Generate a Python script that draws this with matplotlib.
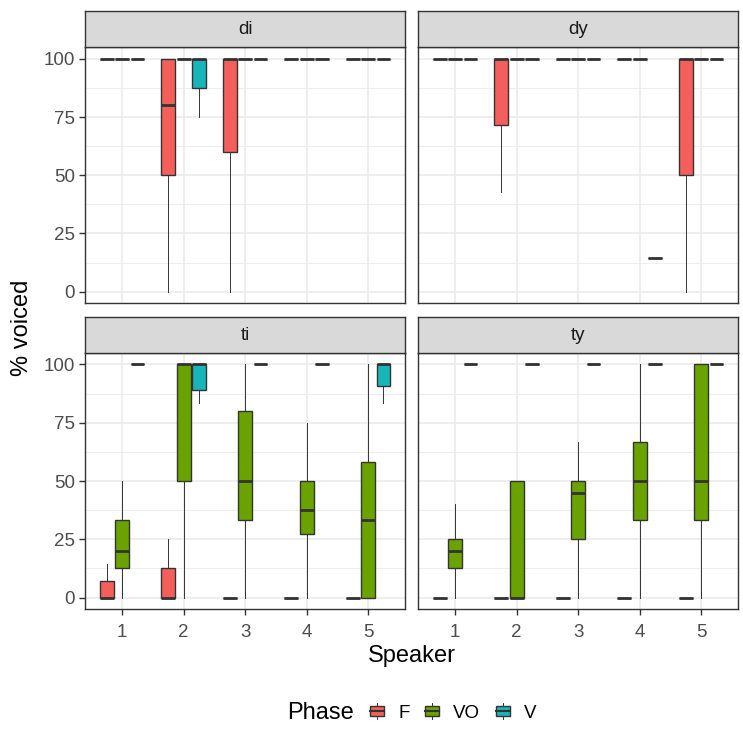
import matplotlib
matplotlib.use("Agg")
import matplotlib.pyplot as plt
from matplotlib.patches import Rectangle

plt.rcParams['font.family'] = ['Liberation Sans', 'DejaVu Sans']

W, H = 743, 734

PANELS = ['di', 'dy', 'ti', 'ty']
PHASES = ['F', 'VO', 'V']
SPEAKERS = [1, 2, 3, 4, 5]
PHASE_COLORS = {'F': '#F55F5B', 'VO': '#6AA300', 'V': '#18B5BA'}

# box statistics, [panel][phase][speaker]
Q1 = [
    [[100, 50, 60, 100, 100], [100, 100, 100, 100, 100], [100, 87.5, 100, 100, 100]],
    [[100, 71.4, 100, 100, 50], [100, 100, 100, 100, 100], [100, 100, 100, 14.3, 100]],
    [[0, 0, 0, 0, 0], [12.5, 50, 33.3, 27.3, 0], [100, 88.9, 100, 100, 90.9]],
    [[0, 0, 0, 0, 0], [12.5, 0, 25, 33.3, 33.3], [100, 100, 100, 100, 100]],
]
MED = [
    [[100, 80, 100, 100, 100], [100, 100, 100, 100, 100], [100, 100, 100, 100, 100]],
    [[100, 100, 100, 100, 100], [100, 100, 100, 100, 100], [100, 100, 100, 14.3, 100]],
    [[0, 0, 0, 0, 0], [20, 100, 50, 37.5, 33.3], [100, 100, 100, 100, 100]],
    [[0, 0, 0, 0, 0], [20, 0, 45, 50, 50], [100, 100, 100, 100, 100]],
]
Q3 = [
    [[100, 100, 100, 100, 100], [100, 100, 100, 100, 100], [100, 100, 100, 100, 100]],
    [[100, 100, 100, 100, 100], [100, 100, 100, 100, 100], [100, 100, 100, 14.3, 100]],
    [[7.1, 12.5, 0, 0, 0], [33.3, 100, 80, 50, 58.3], [100, 100, 100, 100, 100]],
    [[0, 0, 0, 0, 0], [25, 50, 50, 66.7, 100], [100, 100, 100, 100, 100]],
]
WHISLO = [
    [[100, 0, 0, 100, 100], [100, 100, 100, 100, 100], [100, 75, 100, 100, 100]],
    [[100, 42.9, 100, 100, 0], [100, 100, 100, 100, 100], [100, 100, 100, 14.3, 100]],
    [[0, 0, 0, 0, 0], [0, 0, 0, 0, 0], [100, 83.3, 100, 100, 83.3]],
    [[0, 0, 0, 0, 0], [0, 0, 0, 0, 0], [100, 100, 100, 100, 100]],
]
WHISHI = [
    [[100, 100, 100, 100, 100], [100, 100, 100, 100, 100], [100, 100, 100, 100, 100]],
    [[100, 100, 100, 100, 100], [100, 100, 100, 100, 100], [100, 100, 100, 14.3, 100]],
    [[14.3, 25, 0, 0, 0], [50, 100, 100, 75, 100], [100, 100, 100, 100, 100]],
    [[0, 0, 0, 0, 0], [40, 50, 66.7, 100, 100], [100, 100, 100, 100, 100]],
]

Y_TICKS = [0, 25, 50, 75, 100]
Y_MINOR = [12.5, 37.5, 62.5, 87.5]

DARK = '#333333'
GRID = '#EBEBEB'


def frac(x0, y0, x1, y1):
    return [x0 / W, 1 - y1 / H, (x1 - x0) / W, (y1 - y0) / H]


cols = [(85.3, 405), (418.3, 738)]
bodies = [(47.3, 303.3), (352.7, 609.3)]
strips = [(11, 47.3), (317.3, 352.7)]

fig = plt.figure(figsize=(W / 100, H / 100), dpi=100)

for p, name in enumerate(PANELS):
    r, c = divmod(p, 2)
    x0, x1 = cols[c]
    ax = fig.add_axes(frac(x0, bodies[r][0], x1, bodies[r][1]))
    ax.set_xlim(0.4, 5.6)
    ax.set_ylim(-5, 105)

    for y in Y_TICKS:
        ax.axhline(y, color=GRID, lw=1.2, zorder=0)
    for y in Y_MINOR:
        ax.axhline(y, color=GRID, lw=0.6, zorder=0)
    for s in SPEAKERS:
        ax.axvline(s, color=GRID, lw=1.2, zorder=0)

    for k, ph in enumerate(PHASES):
        stats = []
        for j in range(len(SPEAKERS)):
            stats.append(dict(med=MED[p][k][j], q1=Q1[p][k][j], q3=Q3[p][k][j],
                              whislo=WHISLO[p][k][j], whishi=WHISHI[p][k][j],
                              fliers=[]))
        pos = [s + (k - 1) * 0.25 for s in SPEAKERS]
        ax.bxp(stats, positions=pos, widths=0.225, patch_artist=True,
               showfliers=False, showcaps=False, manage_ticks=False,
               boxprops=dict(facecolor=PHASE_COLORS[ph], edgecolor=DARK, lw=1.0),
               medianprops=dict(color=DARK, lw=2.0),
               whiskerprops=dict(color=DARK, lw=0.7), zorder=3)

    for sp in ax.spines.values():
        sp.set_color(DARK)
        sp.set_linewidth(1.0)
    ax.set_xticks(SPEAKERS)
    ax.set_yticks(Y_TICKS)
    ax.tick_params(length=4.5, width=1.0, color=DARK, pad=3,
                   labelsize=13.5, labelcolor='#4D4D4D')
    ax.tick_params(axis='x', pad=6)
    if r == 0:
        ax.tick_params(axis='x', length=0, labelbottom=False)
    else:
        ax.set_xticklabels([str(s) for s in SPEAKERS])
    if c == 1:
        ax.tick_params(axis='y', length=0, labelleft=False)

    sax = fig.add_axes(frac(x0, strips[r][0], x1, strips[r][1]))
    sax.set_facecolor('#D9D9D9')
    sax.set_xticks([])
    sax.set_yticks([])
    for sp in sax.spines.values():
        sp.set_color(DARK)
        sp.set_linewidth(1.0)
    sax.text(0.5, 0.5, name, ha='center', va='center', fontsize=13.5,
             color='#1A1A1A', transform=sax.transAxes)

fig.text(22 / W, 1 - 328 / H, '% voiced', rotation=90, ha='center', va='center',
         fontsize=17, color='black')
fig.text(411.6 / W, 1 - 656 / H, 'Speaker', ha='center', va='center',
         fontsize=17, color='black')

# legend drawn in pixel coordinates
lax = fig.add_axes([0, 0, 1, 1], facecolor='none')
lax.set_xlim(0, W)
lax.set_ylim(H, 0)
lax.axis('off')
lax.text(287, 713, 'Phase', ha='left', va='center', fontsize=17)
key_x = [370, 425, 496]
lab_x = [399, 453, 524]
for ph, kx, tx in zip(PHASES, key_x, lab_x):
    cx = kx + 7
    lax.plot([cx, cx], [703, 719], color=DARK, lw=0.7)
    lax.add_patch(Rectangle((kx, 706), 14, 10, facecolor=PHASE_COLORS[ph],
                            edgecolor=DARK, lw=1.0, zorder=3))
    lax.plot([kx, kx + 14], [711, 711], color=DARK, lw=1.5, zorder=4)
    lax.text(tx, 713, ph, ha='left', va='center', fontsize=13.5)

fig.savefig('out.png', dpi=100)
